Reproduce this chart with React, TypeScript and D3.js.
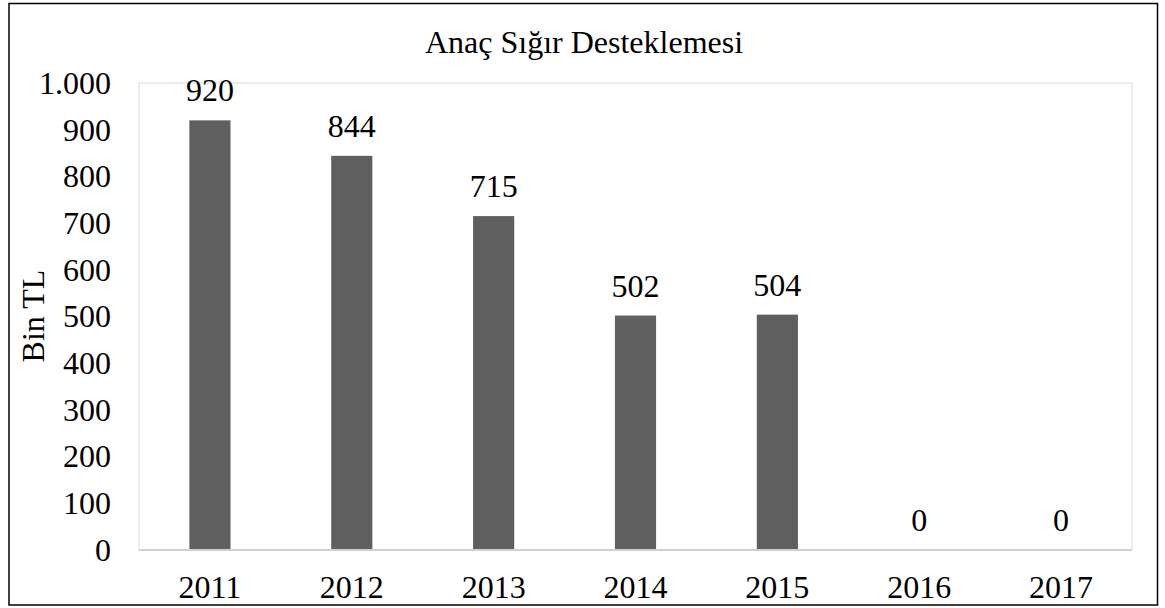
import React, { useEffect, useRef } from "react";
import * as d3 from "d3";

const categories: string[] = ["2011", "2012", "2013", "2014", "2015", "2016", "2017"];
const values: number[] = [920, 844, 715, 502, 504, 0, 0];
const yTicks: number[] = [0, 100, 200, 300, 400, 500, 600, 700, 800, 900, 1000];
const title = "Anaç Sığır Desteklemesi";
const yLabel = "Bin TL";

const W = 1165;
const H = 608;
const FONT = "'Liberation Serif', 'Times New Roman', serif";
const FS = 32;

export default function App() {
  const ref = useRef<SVGSVGElement | null>(null);

  useEffect(() => {
    const svg = d3.select(ref.current);
    svg.selectAll("*").remove();

    const plot = { left: 139, right: 1132, top: 83, bottom: 550 };

    const x = d3
      .scaleBand<string>()
      .domain(categories)
      .range([plot.left, plot.right])
      .paddingInner(0.71)
      .paddingOuter(0.355);
    const y = d3.scaleLinear().domain([0, 1000]).range([plot.bottom, plot.top]);

    svg.append("rect").attr("width", W).attr("height", H).attr("fill", "#fff");

    // outer border
    svg
      .append("rect")
      .attr("x", 9)
      .attr("y", 3.5)
      .attr("width", 1148.5)
      .attr("height", 601.5)
      .attr("fill", "none")
      .attr("stroke", "#000")
      .attr("stroke-width", 1.5);

    // plot area border
    svg
      .append("rect")
      .attr("x", plot.left)
      .attr("y", plot.top)
      .attr("width", plot.right - plot.left)
      .attr("height", plot.bottom - plot.top)
      .attr("fill", "none")
      .attr("stroke", "#d9d9d9")
      .attr("stroke-width", 1);

    // title
    svg
      .append("text")
      .attr("x", 584)
      .attr("y", 53)
      .attr("text-anchor", "middle")
      .attr("font-family", FONT)
      .attr("font-size", FS)
      .attr("fill", "#000")
      .text(title);

    // y tick labels
    const fmt = (v: number) => d3.format(",")(v).replace(/,/g, ".");
    svg
      .append("g")
      .selectAll("text")
      .data(yTicks)
      .join("text")
      .attr("x", 111)
      .attr("y", (d) => y(d))
      .attr("dy", "0.34em")
      .attr("text-anchor", "end")
      .attr("font-family", FONT)
      .attr("font-size", FS)
      .attr("fill", "#000")
      .text((d) => fmt(d));

    // y axis label
    svg
      .append("text")
      .attr("transform", `translate(44,316) rotate(-90)`)
      .attr("text-anchor", "middle")
      .attr("font-family", FONT)
      .attr("font-size", FS)
      .attr("fill", "#000")
      .text(yLabel);

    // bars
    svg
      .append("g")
      .selectAll("rect")
      .data(values)
      .join("rect")
      .attr("x", (_, i) => x(categories[i])!)
      .attr("y", (d) => y(d))
      .attr("width", x.bandwidth())
      .attr("height", (d) => plot.bottom - y(d))
      .attr("fill", "#5f5f5f");

    // baseline axis
    svg
      .append("line")
      .attr("x1", plot.left)
      .attr("x2", plot.right)
      .attr("y1", plot.bottom)
      .attr("y2", plot.bottom)
      .attr("stroke", "#d0d0d0")
      .attr("stroke-width", 2);

    // value labels
    svg
      .append("g")
      .selectAll("text")
      .data(values)
      .join("text")
      .attr("x", (_, i) => x(categories[i])! + x.bandwidth() / 2)
      .attr("y", (d) => y(d) - 19)
      .attr("text-anchor", "middle")
      .attr("font-family", FONT)
      .attr("font-size", FS)
      .attr("fill", "#000")
      .text((d) => String(d));

    // x labels
    svg
      .append("g")
      .selectAll("text")
      .data(categories)
      .join("text")
      .attr("x", (d) => x(d)! + x.bandwidth() / 2)
      .attr("y", 598)
      .attr("text-anchor", "middle")
      .attr("font-family", FONT)
      .attr("font-size", FS)
      .attr("fill", "#000")
      .text((d) => d);
  }, []);

  return (
    <svg
      ref={ref}
      width={W}
      height={H}
      style={{ position: "absolute", left: 0, top: 0, display: "block" }}
    />
  );
}
